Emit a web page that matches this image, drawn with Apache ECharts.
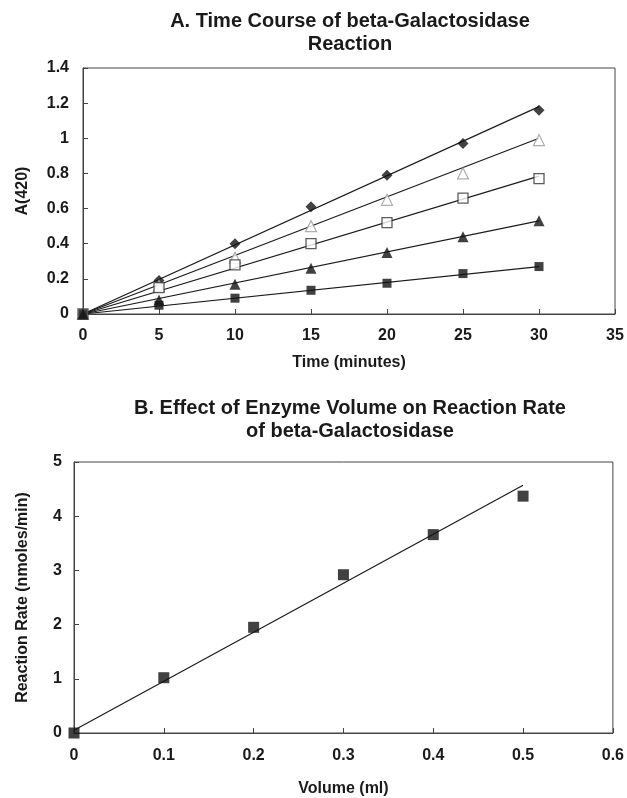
<!DOCTYPE html>
<html>
<head>
<meta charset="utf-8">
<script src="https://cdn.jsdelivr.net/npm/echarts@6/dist/echarts.min.js"></script>
<style>
  html, body { margin: 0; padding: 0; background: #fff; }
  #main { width: 627px; height: 798px; }
</style>
</head>
<body>
<div id="main"></div>
<script>
  // A. time course data
  var timeMin = [0, 5, 10, 15, 20, 25, 30];
  var diamondA = [0, 0.19, 0.40, 0.61, 0.79, 0.97, 1.16];
  var openTriA = [0, 0.16, 0.32, 0.50, 0.65, 0.80, 0.99];
  var openSqA = [0, 0.15, 0.28, 0.40, 0.52, 0.66, 0.77];
  var filledTriA = [0, 0.08, 0.17, 0.26, 0.35, 0.44, 0.53];
  var filledSqA = [0, 0.05, 0.09, 0.135, 0.175, 0.23, 0.27];
  // fitted lines, value at 0 and 30 min
  var fitEndsA = [[0, 1.18], [0, 1.0], [0, 0.785], [0, 0.53], [0, 0.27]];
  var fitX = [0, 30];

  // B. enzyme volume data
  var volumeMl = [0, 0.1, 0.2, 0.3, 0.4, 0.5];
  var rateB = [0, 1.02, 1.95, 2.92, 3.66, 4.37];
  var fitB = [[0, 0.05], [0.5, 4.57]];

  var chart = echarts.init(document.getElementById('main'));
  var font = 'Liberation Sans, Arial, sans-serif';
  var ink = '#1a1a1a';

  function pairs(xs, ys) {
    return xs.map(function (x, i) { return [x, ys[i]]; });
  }

  function pts(ys, symbol, size, style) {
    return {
      type: 'scatter', xAxisIndex: 0, yAxisIndex: 0,
      data: pairs(timeMin, ys), symbol: symbol, symbolSize: size, z: 3,
      itemStyle: style
    };
  }

  var series = [];
  fitEndsA.forEach(function (ends) {
    series.push({
      type: 'line', xAxisIndex: 0, yAxisIndex: 0, symbol: 'none', z: 2,
      data: pairs(fitX, ends), lineStyle: { color: ink, width: 1.2 }
    });
  });
  series.push(pts(diamondA, 'diamond', 11, { color: '#111' }));
  series.push(pts(openTriA, 'triangle', 11, { color: '#fff', borderColor: '#999', borderWidth: 1.2 }));
  series.push(pts(openSqA, 'rect', 10, { color: '#fff', borderColor: '#333', borderWidth: 1.3 }));
  series.push(pts(filledTriA, 'triangle', 11, { color: '#111' }));
  series.push(pts(filledSqA, 'rect', 9, { color: '#111' }));

  series.push({
    type: 'line', xAxisIndex: 1, yAxisIndex: 1, symbol: 'none', z: 2,
    data: fitB, lineStyle: { color: ink, width: 1.2 }
  });
  series.push({
    type: 'scatter', xAxisIndex: 1, yAxisIndex: 1, symbol: 'rect', symbolSize: 11, z: 3,
    data: pairs(volumeMl, rateB), itemStyle: { color: '#111' }
  });

  var label = { color: ink, fontFamily: font, fontWeight: 'bold', fontSize: 16 };
  var nameStyle = { color: ink, fontFamily: font, fontWeight: 'bold', fontSize: 16 };
  var titleStyle = { color: ink, fontFamily: font, fontWeight: 'bold', fontSize: 20, lineHeight: 23 };
  var axLine = { show: true, lineStyle: { color: '#444', width: 1 } };
  var tick = { show: true, inside: true, length: 5, lineStyle: { color: '#444' } };

  chart.setOption({
    backgroundColor: '#fff',
    animation: false,
    title: [
      { text: 'A. Time Course of beta-Galactosidase\nReaction', left: 345, top: 5, textAlign: 'center', textStyle: titleStyle },
      { text: 'B. Effect of Enzyme Volume on Reaction Rate\nof beta-Galactosidase', left: 345, top: 392, textAlign: 'center', textStyle: titleStyle }
    ],
    grid: [
      { left: 83, right: 12, top: 68, height: 246, show: true, borderColor: '#444', borderWidth: 1 },
      { left: 74, right: 12, top: 462, height: 271, show: true, borderColor: '#444', borderWidth: 1 }
    ],
    xAxis: [
      {
        gridIndex: 0, type: 'value', min: 0, max: 35, interval: 5,
        name: 'Time (minutes)', nameLocation: 'middle', nameGap: 41, nameTextStyle: nameStyle,
        axisLine: axLine, axisTick: tick, splitLine: { show: false },
        axisLabel: Object.assign({ margin: 14 }, label)
      },
      {
        gridIndex: 1, type: 'value', min: 0, max: 0.6, interval: 0.1,
        name: 'Volume (ml)', nameLocation: 'middle', nameGap: 48, nameTextStyle: nameStyle,
        axisLine: axLine, axisTick: tick, splitLine: { show: false },
        axisLabel: Object.assign({ margin: 15 }, label)
      }
    ],
    yAxis: [
      {
        gridIndex: 0, type: 'value', min: 0, max: 1.4, interval: 0.2,
        name: 'A(420)', nameLocation: 'middle', nameGap: 52, nameTextStyle: nameStyle,
        axisLine: axLine, axisTick: tick, splitLine: { show: false },
        axisLabel: Object.assign({ margin: 14 }, label)
      },
      {
        gridIndex: 1, type: 'value', min: 0, max: 5, interval: 1,
        name: 'Reaction Rate (nmoles/min)', nameLocation: 'middle', nameGap: 43, nameTextStyle: nameStyle,
        axisLine: axLine, axisTick: tick, splitLine: { show: false },
        axisLabel: Object.assign({ margin: 12 }, label)
      }
    ],
    series: series
  });

  window.onresize = function () { chart.resize(); };
</script>
</body>
</html>
